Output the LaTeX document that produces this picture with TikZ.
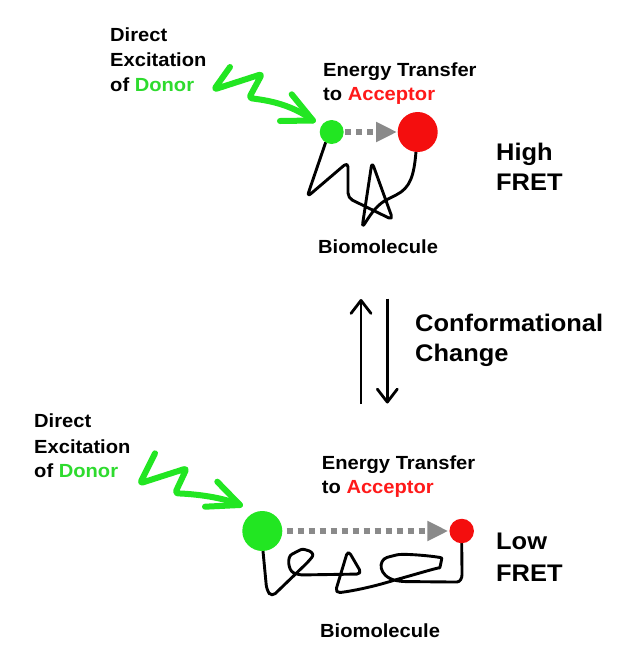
\documentclass[tikz,border=0pt]{standalone}
\usepackage{fontspec}
\setmainfont{Liberation Sans}[FakeStretch=1.06]
\usetikzlibrary{arrows.meta}
\pgfdeclarelayer{bg}
\pgfsetlayers{bg,main}
\definecolor{fgreen}{HTML}{22E622}
\definecolor{fred}{HTML}{F40E0E}
\definecolor{tgreen}{HTML}{2EDB2E}
\definecolor{tred}{HTML}{FF1A1A}
\definecolor{dgray}{HTML}{8A8A8A}
\begin{document}
\begin{tikzpicture}[x=1pt,y=-1pt,
  lbl/.style={anchor=base west, inner sep=0pt, font=\fontsize{19}{23}\selectfont\bfseries},
  big/.style={anchor=base west, inner sep=0pt, font=\fontsize{24}{29}\selectfont\bfseries},
  dye/.style={circle, inner sep=0pt, minimum size=#1},
  mol/.style={line width=2.9pt, line join=round, line cap=round, rounded corners=5pt},
  wave/.style={fgreen, line width=6pt, line join=round, line cap=round, rounded corners=3pt},
  fret/.style={dgray, line width=6pt, dash pattern=on 6pt off 5pt, -{Triangle[length=21pt,width=19pt]}},
  conf/.style={line width=2.8pt, -{Straight Barb[length=13pt,width=20pt,round,line width=2.8pt]}}
]
\useasboundingbox (0,0) rectangle (644,665);
\begin{pgfonlayer}{bg}
\fill[white] (0,0) rectangle (644,665);
\end{pgfonlayer}

% ---------- top state ----------
\node[dye=24pt, fill=fgreen] (dT) at (331.7,132) {};
\node[dye=40pt, fill=fred] (aT) at (417.7,132) {};
\begin{pgfonlayer}{bg}
\draw[mol] (dT.240) -- (307,197) -- (348,162) -- (348,198) -- (393,220) -- (372,162) -- (362,228)
  .. controls (372,212) and (378,204) .. (392,197) .. controls (410,188) and (414,176) .. (aT.265);
\end{pgfonlayer}
\draw[fret, shorten <=1.5pt, shorten >=0.5pt] (dT) -- (aT);

\coordinate (tipT) at (313,120.5);
\draw[wave] (230,67) -- (214,89.5) -- (262,74) -- (249,98) .. controls (264,100) and (290,103) .. (tipT);
\draw[wave, rounded corners=0pt] (291.7,94.3) -- (tipT) -- (280,121);

\node[lbl] (exT1) at (110,41.7) {Direct};
\node[lbl] (exT2) at (110,66.5) {Excitation};
\node[lbl] (exT3) at (110,91) {of \textcolor{tgreen}{Donor}};
\node[lbl] (etT1) at (323,76.7) {Energy Transfer};
\node[lbl] (etT2) at (323,100) {to \textcolor{tred}{Acceptor}};
\node[lbl] (bmT) at (318,253) {Biomolecule};
\node[big] (hi1) at (496,160) {High};
\node[big] (hi2) at (496,190) {FRET};

% ---------- conformational change ----------
\coordinate (u0) at (361,404);
\coordinate (u1) at (361,299);
\coordinate (d0) at (387.3,298.5);
\coordinate (d1) at (387.3,403.5);
\draw[conf] (u0) -- (u1);
\draw[conf] (d0) -- (d1);
\node[big] (cc1) at (415,331.7) {Conformational};
\node[big] (cc2) at (415,361.7) {Change};

% ---------- bottom state ----------
\node[dye=40pt, fill=fgreen] (dB) at (262.3,531) {};
\node[dye=24.5pt, fill=fred] (aB) at (461.7,531) {};
\begin{pgfonlayer}{bg}
\draw[mol] (dB.272) -- (266.7,590) -- (271.7,597) -- (309,561)
  .. controls (316,552) and (304,548) .. (296,552)
  .. controls (287,557) and (288,570) .. (298,575)
  -- (362,574) -- (348,550) -- (335,593)
  .. controls (345,592) and (365,589) .. (395,580)
  .. controls (420,573) and (440,567) .. (441,563)
  .. controls (442,557) and (405,553) .. (392,556)
  .. controls (378,560) and (378,576) .. (400,581.5)
  -- (452,582) .. controls (460,582) and (462,578) .. (462,570) -- (aB.south);
\end{pgfonlayer}
\draw[fret, shorten <=4pt, shorten >=1pt] (dB) -- (aB);

\coordinate (tipB) at (240,505);
\draw[wave] (155,453.3) -- (140,483.3) -- (186.7,468.3) -- (175,493.3) .. controls (195,494) and (222,497) .. (tipB);
\draw[wave, rounded corners=0pt] (217.3,481.7) -- (tipB) -- (205,506.7);

\node[lbl] (exB1) at (34,427.3) {Direct};
\node[lbl] (exB2) at (34,453.3) {Excitation};
\node[lbl] (exB3) at (34,477.3) {of \textcolor{tgreen}{Donor}};
\node[lbl] (etB1) at (321.7,469.3) {Energy Transfer};
\node[lbl] (etB2) at (321.7,493.3) {to \textcolor{tred}{Acceptor}};
\node[lbl] (bmB) at (320,637) {Biomolecule};
\node[big] (lo1) at (496,549.3) {Low};
\node[big] (lo2) at (496,581.7) {FRET};
\end{tikzpicture}
\end{document}
